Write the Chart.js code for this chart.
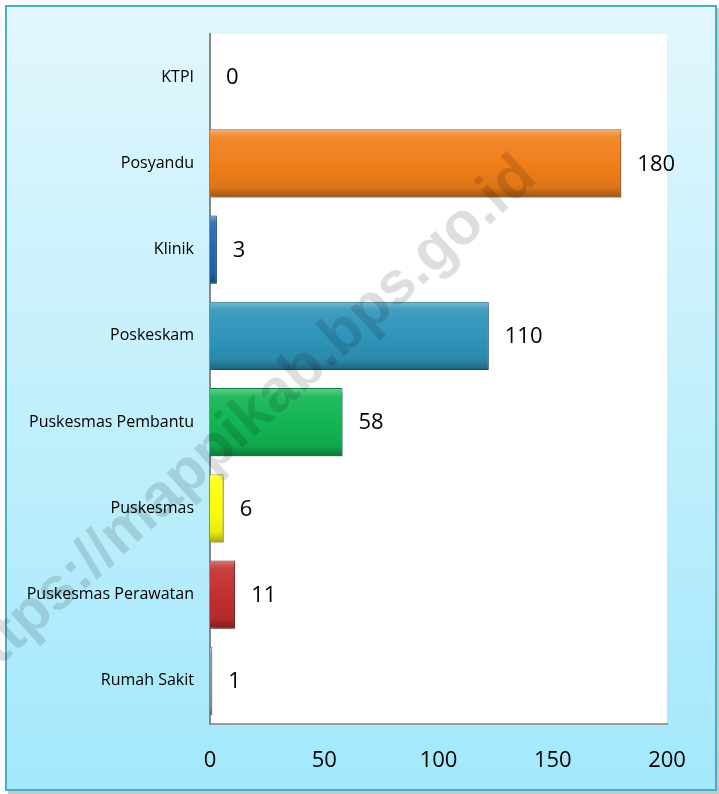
<!DOCTYPE html>
<html>
<head>
<meta charset="utf-8">
<script src="https://cdn.jsdelivr.net/npm/chart.js@4"></script>
<style>
  html, body { margin: 0; padding: 0; background: #fff; }
  canvas { display: block; }
</style>
</head>
<body>
<canvas id="fasilitasChart" width="719" height="794"></canvas>
<script>
const categories = [
    'KTPI',
    'Posyandu',
    'Klinik',
    'Poskeskam',
    'Puskesmas Pembantu',
    'Puskesmas',
    'Puskesmas Perawatan',
    'Rumah Sakit'
];
// bar lengths as drawn in the picture
const values = [0, 180, 3, 122, 58, 6, 11, 1];
// numbers printed next to the bars
const valueLabels = ['0', '180', '3', '110', '58', '6', '11', '1'];
const barColors = ['#f07f1a', '#f07f1a', '#1f68b0', '#2f95ba', '#12b553', '#ffff0a', '#c2302f', '#8c96a4'];
const xTicks = [0, 50, 100, 150, 200];

const BAR_PCT = 0.79;

function shade(hex, amt) {
    const n = parseInt(hex.slice(1), 16);
    let r = n >> 16, g = (n >> 8) & 255, b = n & 255;
    const f = v => Math.max(0, Math.min(255, Math.round(amt >= 0 ? v + (255 - v) * amt : v * (1 + amt))));
    return 'rgb(' + f(r) + ',' + f(g) + ',' + f(b) + ')';
}

const frame = {
    id: 'frame',
    beforeDraw: (chart) => {
        const ctx = chart.ctx;
        const area = chart.chartArea;
        ctx.save();
        ctx.fillStyle = '#ffffff';
        ctx.fillRect(0, 0, chart.width, chart.height);
        // soft shadow
        ctx.fillStyle = '#c8c8c8';
        ctx.fillRect(8, 8, 711, 786);
        const g = ctx.createLinearGradient(0, 6, 0, 790);
        g.addColorStop(0, '#e2f7fd');
        g.addColorStop(1, '#a3e8fb');
        ctx.fillStyle = g;
        ctx.fillRect(6, 6, 710, 784);
        ctx.strokeStyle = '#4aadc8';
        ctx.lineWidth = 2;
        ctx.strokeRect(6, 6, 710, 784);
        ctx.fillStyle = '#ffffff';
        ctx.fillRect(area.left, area.top, area.right - area.left, area.bottom - area.top);
        ctx.restore();
    }
};

const barShadow = {
    id: 'barShadow',
    beforeDatasetsDraw: (chart) => {
        const ctx = chart.ctx;
        ctx.save();
        ctx.shadowColor = 'rgba(0,0,0,0.35)';
        ctx.shadowBlur = 4;
        ctx.shadowOffsetX = 2;
        ctx.shadowOffsetY = 3;
    },
    afterDatasetsDraw: (chart) => {
        chart.ctx.restore();
    }
};

const valueText = {
    id: 'valueText',
    afterDatasetsDraw: (chart) => {
        const ctx = chart.ctx;
        const meta = chart.getDatasetMeta(0);
        ctx.save();
        ctx.font = '22px "Open Sans"';
        ctx.fillStyle = '#000000';
        ctx.textAlign = 'left';
        ctx.textBaseline = 'middle';
        meta.data.forEach((bar, i) => {
            ctx.fillText(valueLabels[i], bar.x + 16, bar.y + 1);
        });
        ctx.restore();
    }
};

const watermark = {
    id: 'watermark',
    afterDraw: (chart) => {
        const ctx = chart.ctx;
        ctx.save();
        ctx.translate(528, 168);
        ctx.rotate(-42 * Math.PI / 180);
        ctx.font = 'bold 60px "Liberation Sans"';
        ctx.fillStyle = 'rgba(0,0,0,0.13)';
        ctx.textAlign = 'right';
        ctx.textBaseline = 'middle';
        ctx.fillText('https://mappikab.bps.go.id', 0, 0);
        ctx.restore();
    }
};

const config = {
    type: 'bar',
    data: {
        labels: categories,
        datasets: [{
            data: values,
            backgroundColor: (c) => {
                const chart = c.chart;
                const base = barColors[c.dataIndex];
                const area = chart.chartArea;
                const y = chart.scales.y;
                if (!area || !y || c.type !== 'data') return base;
                const cy = y.getPixelForValue(c.dataIndex);
                const h = (area.bottom - area.top) / categories.length * BAR_PCT;
                const g = chart.ctx.createLinearGradient(0, cy - h / 2, 0, cy + h / 2);
                g.addColorStop(0, shade(base, 0.35));
                g.addColorStop(0.12, shade(base, 0.08));
                g.addColorStop(0.5, base);
                g.addColorStop(0.85, shade(base, -0.08));
                g.addColorStop(1, shade(base, -0.35));
                return g;
            },
            borderColor: barColors.map(c => shade(c, -0.3)),
            borderWidth: 1,
            borderSkipped: 'start',
            barPercentage: BAR_PCT,
            categoryPercentage: 1
        }]
    },
    plugins: [frame, barShadow, valueText, watermark],
    options: {
        indexAxis: 'y',
        responsive: false,
        animation: false,
        layout: {
            padding: { top: 34, right: 52, left: 0, bottom: 0 }
        },
        plugins: {
            legend: { display: false },
            tooltip: { enabled: false }
        },
        scales: {
            x: {
                min: 0,
                max: 200,
                afterBuildTicks: (scale) => {
                    scale.ticks = xTicks.map(v => ({ value: v }));
                },
                afterFit: (scale) => { scale.height = 70; },
                grid: { display: false, drawTicks: false },
                border: { display: true, color: '#9a9a9a', width: 2 },
                ticks: {
                    padding: 24,
                    color: '#000000',
                    font: { family: 'Open Sans', size: 22 },
                    maxRotation: 0
                }
            },
            y: {
                afterFit: (scale) => { scale.width = 210; },
                grid: { display: false, drawTicks: false },
                border: { display: true, color: '#888888', width: 2 },
                ticks: {
                    padding: 16,
                    color: '#000000',
                    font: { family: 'Open Sans', size: 16 }
                }
            }
        }
    }
};

const fasilitasChart = new Chart(
    document.getElementById('fasilitasChart'),
    config
);
</script>
</body>
</html>
